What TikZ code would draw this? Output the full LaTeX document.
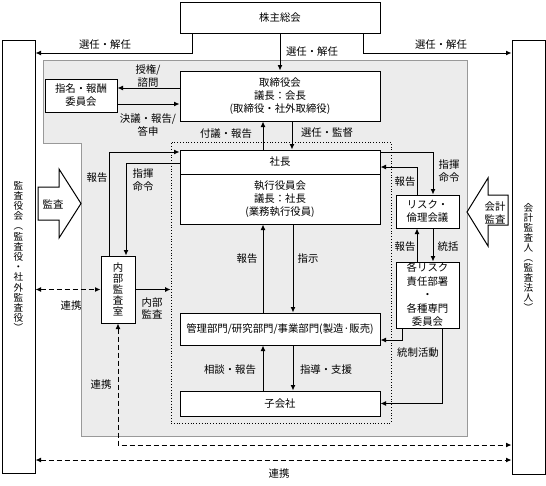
\documentclass[tikz,border=0pt]{standalone}
\usepackage{fontspec}
\setmainfont{Noto Sans CJK JP}
\usetikzlibrary{arrows.meta}

% tight stacking for vertical text
\newcommand\vstackfont[2]{\fontsize{#1}{#2}\selectfont\lineskiplimit=-20pt\relax}

\begin{document}
\begin{tikzpicture}[x=1pt,y=-1pt,
    font=\fontsize{10.4}{13}\selectfont,
    box/.style={draw, line width=1pt, fill=white, inner sep=0pt, align=center},
    arr/.style={line width=1pt, -{Latex[length=5.5pt,width=5pt]}},
    dasharr/.style={line width=1pt, dash pattern=on 5pt off 3pt,
        {Latex[length=5.5pt,width=5pt]}-{Latex[length=5.5pt,width=5pt]}},
    lbl/.style={inner sep=0pt, align=center}]

    \useasboundingbox (0,0) rectangle (546,485);

    % grey area and executive frame
    \draw[gray!80, fill=gray!15] (43,60) -- (467,60) -- (467,436) -- (81,436) -- (81,143) -- (43,143) -- cycle;
    \node[draw, dotted, line width=0.8pt, minimum width=220pt, minimum height=281pt] (shikkou) at (281,282.5) {};

    % boxes
    \node[box, minimum width=200pt, minimum height=31pt] (soukai) at (280,17.5) {株主総会};
    \node[box, font=\vstackfont{9.6}{10.2}, minimum width=33pt, minimum height=433pt] (kansayaku) at (18.5,256.5)
        {監\\査\\役\\会\\︵\\監\\査\\役\\・\\社\\外\\監\\査\\役\\︶};
    \node[box, font=\vstackfont{9.6}{10}, minimum width=33pt, minimum height=434pt] (kaikei) at (528.5,257)
        {会\\計\\監\\査\\人\\︵\\監\\査\\法\\人\\︶};
    \node[box, minimum width=200pt, minimum height=50pt] (torishimari) at (280,96) {取締役会\\議長：会長\\(取締役・社外取締役)};
    \node[box, minimum width=72pt, minimum height=33pt] (shimei) at (81,95.5) {指名・報酬\\委員会};
    \node[box, minimum width=200pt, minimum height=24pt] (shacho) at (280,162) {社長};
    \node[box, minimum width=200pt, minimum height=50pt] (yakuin) at (280,199) {執行役員会\\議長：社長\\(業務執行役員)};
    \node[box, font=\vstackfont{10.4}{11}, minimum width=34pt, minimum height=67pt] (naibu) at (118,289.5)
        {内\\部\\監\\査\\室};
    \node[box, minimum width=63pt, minimum height=33pt] (risk) at (427.5,211.5) {リスク・\\倫理会議};
    \node[box, font=\vstackfont{10.4}{13.5}, minimum width=63pt, minimum height=66pt] (kakurisk) at (427.5,295)
        {各リスク\\責任部署\\・\\各種専門\\委員会};
    \node[box, minimum width=200pt, minimum height=32pt] (kanri) at (280,329) {管理部門/研究部門/事業部門(製造·販売)};
    \node[box, minimum width=200pt, minimum height=25pt] (kogaisha) at (280,403.5) {子会社};

    % block arrows
    \draw[line width=1pt, fill=white] (38,187) -- (59,187) -- (59,169) -- (81,203.5) -- (59,238) -- (59,220) -- (38,220) -- cycle;
    \node[lbl] (kansa) at (53,204) {監査};
    \draw[line width=1pt, fill=white] (467,212) -- (488,178) -- (488,195) -- (508,195) -- (508,225) -- (488,225) -- (488,246) -- cycle;
    \node[lbl] (kaikeikansa) at (495,213) {会計\\監査};

    % shareholders
    \draw[arr] ([xshift=-88pt]soukai.south) |- (kansayaku.east |- 0,53);
    \draw[arr] (soukai.south) -- (torishimari.north);
    \draw[arr] ([xshift=83pt]soukai.south) |- (kaikei.west |- 0,53);
    \node[lbl] (l1) at (105,45) {選任・解任};
    \node[lbl] (l2) at (312,52) {選任・解任};
    \node[lbl] (l3) at (441,45) {選任・解任};

    % board and committee
    \draw[arr] ([yshift=8pt]torishimari.west) -- ([yshift=8pt]torishimari.west -| shimei.east);
    \draw[arr] ([yshift=-8pt]torishimari.west -| shimei.east) -- ([yshift=-8pt]torishimari.west);
    \node[lbl] (l4) at (148,76) {授権/\\諮問};
    \node[lbl] (l5) at (148,125) {決議・報告/\\答申};
    \draw[arr] ([xshift=12pt]torishimari.south) -- ([xshift=12pt]shacho.north);
    \draw[arr] ([xshift=-17pt]shacho.north) -- ([xshift=-17pt]torishimari.south);
    \node[lbl] (l6) at (226,134) {付議・報告};
    \node[lbl] (l7) at (327,133) {選任・監督};

    % internal audit
    \draw[arr] ([xshift=-9pt]naibu.north) |- ([yshift=10pt]shacho.west);
    \draw[arr] ([yshift=-1pt]shacho.west) -| ([xshift=8pt]naibu.north);
    \node[lbl] (l8) at (97,178) {報告};
    \node[lbl] (l9) at (143,180) {指揮\\命令};
    \draw[arr] (naibu.east) -- (naibu.east -| shikkou.west);
    \node[lbl, font=\fontsize{10.4}{12}\selectfont] (l10) at (152,308) {内部\\監査};
    \draw[dasharr] (kansayaku.east |- naibu.west) -- (naibu.west);
    \node[lbl] (l11) at (71,306) {連携};
    \draw[dasharr] (naibu.south) |- (kaikei.west |- 0,445);
    \node[lbl] (l12) at (101,385) {連携};
    \draw[dasharr] (kansayaku.east |- 0,460) -- (kaikei.west |- 0,460);
    \node[lbl] (l13) at (279,474) {連携};

    % executive line
    \draw[arr] ([xshift=13pt]yakuin.south) -- ([xshift=13pt]kanri.north);
    \draw[arr] ([xshift=-17pt]kanri.north) -- ([xshift=-17pt]yakuin.south);
    \node[lbl] (l14) at (247,259) {報告};
    \node[lbl] (l15) at (308,259) {指示};
    \draw[arr] ([xshift=13pt]kanri.south) -- ([xshift=13pt]kogaisha.north);
    \draw[arr] ([xshift=-17pt]kogaisha.north) -- ([xshift=-17pt]kanri.south);
    \node[lbl] (l16) at (230,370) {相談・報告};
    \node[lbl] (l17) at (326,370) {指導・支援};

    % risk management
    \draw[arr] ([yshift=10pt]shacho.east) -| ([xshift=5.5pt]risk.north);
    \draw[arr] ([xshift=-10.5pt]risk.north) |- ([yshift=-5pt]shacho.east);
    \node[lbl] (l18) at (449,171) {指揮\\命令};
    \node[lbl] (l19) at (405,182) {報告};
    \draw[arr] ([xshift=5.5pt]risk.south) -- ([xshift=5.5pt]kakurisk.north);
    \draw[arr] ([xshift=-10.5pt]kakurisk.north) -- ([xshift=-10.5pt]risk.south);
    \node[lbl] (l20) at (405,247) {報告};
    \node[lbl] (l21) at (448,247) {統括};
    \draw[arr] ([xshift=-25.5pt]kakurisk.south) |- ([yshift=-11pt]kanri.east);
    \draw[arr] ([xshift=14.5pt]kakurisk.south) |- (kogaisha.east);
    \node[lbl] (l22) at (418,353) {統制活動};
\end{tikzpicture}
\end{document}
